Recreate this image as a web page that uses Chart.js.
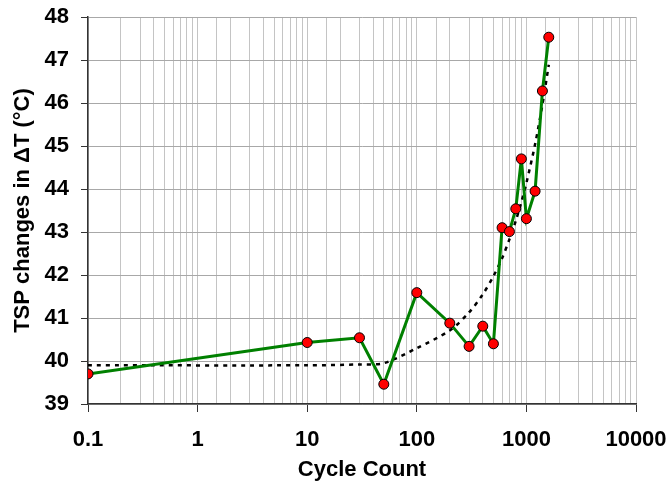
<!DOCTYPE html>
<html>
<head>
<meta charset="utf-8">
<script src="https://cdn.jsdelivr.net/npm/chart.js@4.4.1/dist/chart.umd.min.js"></script>
<style>
  html, body { margin: 0; padding: 0; background: #fff; }
  canvas { display: block; }
</style>
</head>
<body>
<canvas id="chartTsp" width="670" height="483"></canvas>
<script>
const cycles = [0.1, 10, 30, 50, 100, 200, 300, 400, 500, 600, 700, 800, 900, 1000, 1200, 1400, 1600];
const deltaT = [39.7, 40.43, 40.54, 39.46, 41.59, 40.88, 40.34, 40.81, 40.4, 43.1, 43.01, 43.54, 44.7, 43.31, 43.95, 46.28, 47.53];

// dotted trend line
const trendCycles = [0.1, 10, 30, 50, 100, 200, 300, 400, 500, 600, 700, 800, 900, 1000, 1200, 1400, 1600];
const trendValues = [39.9, 39.9, 39.92, 39.95, 40.3, 40.71, 41.13, 41.55, 41.97, 42.39, 42.83, 43.26, 43.7, 44.14, 45.04, 45.96, 46.89];

const yTicks = [39, 40, 41, 42, 43, 44, 45, 46, 47, 48];

const font = { family: "'Liberation Sans', Arial, sans-serif", size: 22, weight: 'bold' };

const isDecade = v => Math.abs(Math.log10(v) - Math.round(Math.log10(v))) < 1e-6;

const ctx = document.getElementById('chartTsp').getContext('2d');

new Chart(ctx, {
    type: 'line',
    data: {
        datasets: [{
            label: 'TSP',
            data: cycles.map((c, i) => ({ x: c, y: deltaT[i] })),
            borderColor: '#008000',
            borderWidth: 3,
            pointBackgroundColor: '#ff0000',
            pointBorderColor: '#000',
            pointBorderWidth: 1,
            pointRadius: 5,
            tension: 0,
            fill: false,
            order: 0
        }, {
            label: 'Trend',
            data: trendCycles.map((c, i) => ({ x: c, y: trendValues[i] })),
            borderColor: '#000',
            borderWidth: 2.5,
            borderDash: [4, 5],
            pointRadius: 0,
            tension: 0.3,
            fill: false,
            order: 1
        }]
    },
    options: {
        responsive: false,
        animation: false,
        layout: { padding: { left: 0, right: 34, top: 17, bottom: 0 } },
        plugins: {
            legend: { display: false },
            tooltip: { enabled: false }
        },
        scales: {
            x: {
                type: 'logarithmic',
                min: 0.1,
                max: 10000,
                afterFit: s => {
                    s.height = 79;
                    s.paddingLeft = 0;
                    s.paddingRight = 0;
                },
                border: { color: '#333', width: 1.5 },
                grid: {
                    color: '#c4c4c4',
                    lineWidth: 1,
                    tickLength: 8,
                    tickColor: c => (c.tick && isDecade(c.tick.value)) ? '#333' : 'rgba(0,0,0,0)'
                },
                ticks: {
                    autoSkip: false,
                    maxRotation: 0,
                    padding: 15,
                    color: '#000',
                    font: font,
                    callback: v => isDecade(v) ? String(v) : ''
                },
                title: {
                    display: true,
                    text: 'Cycle Count',
                    color: '#000',
                    font: font,
                    padding: { top: 3, bottom: 0 }
                }
            },
            y: {
                min: 39,
                max: 48,
                afterFit: s => {
                    s.width = 88;
                    s.paddingTop = 0;
                    s.paddingBottom = 0;
                },
                afterBuildTicks: s => { s.ticks = yTicks.map(v => ({ value: v })); },
                border: { color: '#333', width: 1.5 },
                grid: {
                    color: '#a8a8a8',
                    lineWidth: 1,
                    tickLength: 7,
                    tickColor: '#333'
                },
                ticks: {
                    padding: 12,
                    color: '#000',
                    font: font
                },
                title: {
                    display: true,
                    text: 'TSP changes in ΔT (°C)',
                    color: '#000',
                    font: font,
                    padding: { top: 10, bottom: 0 }
                }
            }
        }
    }
});
</script>
</body>
</html>
